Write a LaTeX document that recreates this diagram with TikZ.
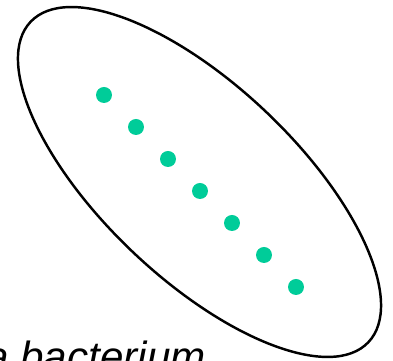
\documentclass[tikz,border=0pt]{standalone}
\usepackage{fontspec}
\setmainfont{Liberation Sans}
\usepackage{xcolor}
\usetikzlibrary{positioning}
\definecolor{dotgreen}{RGB}{0,204,153}

\begin{document}
\begin{tikzpicture}[
  x=0.02cm,y=0.02cm,
  cell/.style ={draw=black,line width=1.4pt},
  grain/.style={circle,fill=dotgreen,inner sep=0pt,minimum size=0.32cm},
  tag/.style  ={font=\fontsize{24}{28}\selectfont\itshape,inner sep=0pt,anchor=base west},
]
\useasboundingbox (0,0) rectangle (393,361);
\clip (0,0) rectangle (393,361);
% the cell
\draw[cell,rotate around={-43.5:(199.5,179)}] (199.5,179) ellipse [x radius=232.8,y radius=96.7];
% granules along the long axis
\foreach \i in {0,...,6}
  \node[grain] (g\i) at (104+32*\i,266-32*\i) {};
\node[tag] (label) at (-15,-11) {a bacterium};
\end{tikzpicture}
\end{document}
